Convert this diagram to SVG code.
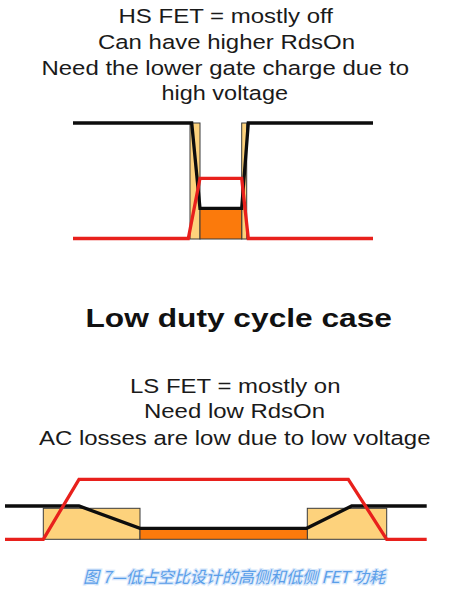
<svg xmlns="http://www.w3.org/2000/svg" width="465" height="592" viewBox="0 0 465 592">
<style>
.t{font-family:"Liberation Sans",Arial,sans-serif;font-size:20.5px;fill:#1a1a1a}
.h{font-family:"Liberation Sans",Arial,sans-serif;font-size:26px;font-weight:bold;fill:#111}
.cap{font-family:"Noto Sans CJK SC","Noto Sans",sans-serif;font-size:16.5px;font-style:italic;fill:#5a9ee9;stroke:#d8e8fb;stroke-width:2.5;paint-order:stroke}
.y{fill:#fdd27c;stroke:#3a3a3a;stroke-width:1}
.o{fill:#fb7a0c;stroke:#3a3a3a;stroke-width:1}
.k{fill:none;stroke:#0d0d0d;stroke-width:3.3;stroke-linejoin:miter}
.r{fill:none;stroke:#e8201c;stroke-width:3.3;stroke-linejoin:miter}
</style>
<rect width="465" height="592" fill="#ffffff"/>
<g id="hs-text">
<text class="t" x="118.5" y="23" textLength="214.5" lengthAdjust="spacingAndGlyphs">HS FET = mostly off</text>
<text class="t" x="98" y="48.5" textLength="257" lengthAdjust="spacingAndGlyphs">Can have higher RdsOn</text>
<text class="t" x="41.5" y="75" textLength="367.5" lengthAdjust="spacingAndGlyphs">Need the lower gate charge due to</text>
<text class="t" x="161.5" y="100" textLength="126.5" lengthAdjust="spacingAndGlyphs">high voltage</text>
</g>
<g id="hs-waveform">
<rect class="y" x="190" y="123" width="10" height="116"/>
<rect class="y" x="241.7" y="123" width="5" height="116"/>
<rect class="o" x="200" y="208.3" width="41.7" height="30.7"/>
<polyline class="k" points="73,123 191.7,123 200,208.3 241.7,208.3 248.3,123 373,123"/>
<polyline class="r" points="73,238.5 188.3,238.5 200,178.3 241.7,178.3 248.3,238.5 373,238.5"/>
</g>
<g id="title">
<text class="h" x="85.5" y="326.7" textLength="306.5" lengthAdjust="spacingAndGlyphs">Low duty cycle case</text>
</g>
<g id="ls-text">
<text class="t" x="130" y="392.7" textLength="210.5" lengthAdjust="spacingAndGlyphs">LS FET = mostly on</text>
<text class="t" x="144" y="418" textLength="181" lengthAdjust="spacingAndGlyphs">Need low RdsOn</text>
<text class="t" x="39" y="445" textLength="391.5" lengthAdjust="spacingAndGlyphs">AC losses are low due to low voltage</text>
</g>
<g id="ls-waveform">
<rect class="y" x="43.3" y="508.3" width="96.7" height="31"/>
<rect class="y" x="307.3" y="508.3" width="79.4" height="31"/>
<rect class="o" x="140" y="528.3" width="167.3" height="11"/>
<polyline class="k" points="5,506 79,506 140,528.3 306.7,528.3 351.7,506 426.7,506"/>
<polyline class="r" points="5,539.3 43.3,539.3 79,479.3 348.3,479.3 386.7,539.3 426.7,539.3"/>
</g>
<g id="caption">
<text class="cap" x="83" y="583" textLength="302" lengthAdjust="spacingAndGlyphs">图 7—低占空比设计的高侧和低侧 FET 功耗</text>
</g>
</svg>
